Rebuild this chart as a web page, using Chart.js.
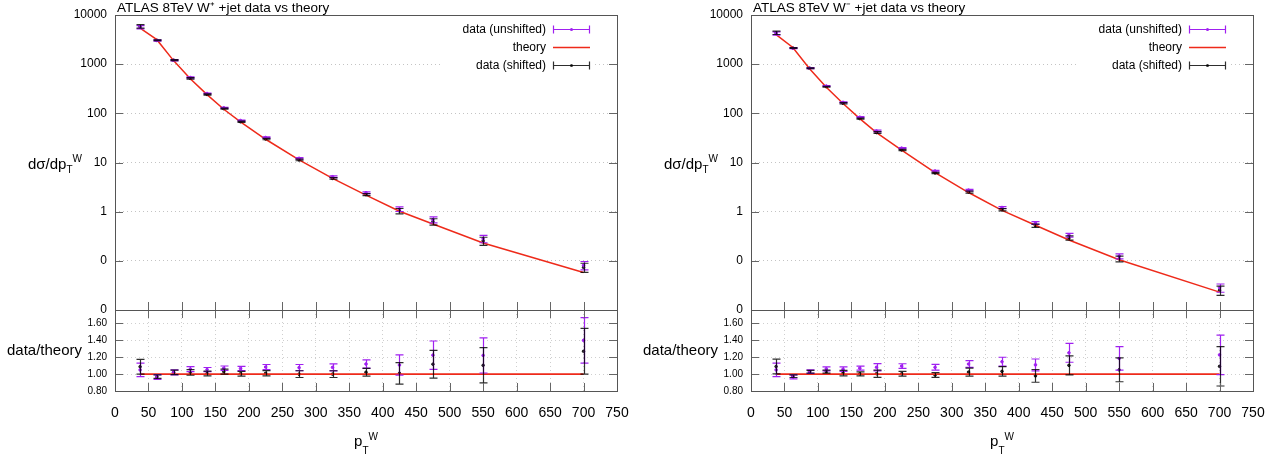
<!DOCTYPE html>
<html>
<head>
<meta charset="utf-8">
<script src="https://cdn.jsdelivr.net/npm/chart.js@4/dist/chart.umd.min.js"></script>
<style>
  body { margin: 0; background: #fff; width: 1276px; height: 456px; overflow: hidden; position: relative; }
  canvas { position: absolute; }
</style>
</head>
<body>
<script>
// bin centres in p_T^W
const ptBins = [37.5, 62.5, 87.5, 112.5, 137.5, 162.5, 187.5, 225, 275, 325, 375, 425, 475, 550, 700];

// W+ panel
const theoryWp     = [5400, 3150, 1180, 505, 240, 121, 67, 29.7, 11.3, 4.75, 2.17, 1.02, 0.56, 0.23, 0.058];
const dataWp       = [5670, 3040, 1204, 535, 253, 129.5, 71.4, 32.2, 12.17, 5.13, 2.43, 1.13, 0.686, 0.281, 0.0812];
const errWp        = [432, 88, 35, 15.2, 5.8, 3.15, 1.68, 0.89, 0.42, 0.195, 0.106, 0.122, 0.094, 0.048, 0.0157];
const shiftedWp    = [5875, 3056, 1204, 515, 242, 124.6, 67.3, 30.0, 11.3, 4.75, 2.22, 1.03, 0.626, 0.254, 0.0737];
const shiftedErrWp = [475, 63, 31, 16.7, 6.7, 3.6, 1.81, 0.95, 0.45, 0.19, 0.10, 0.13, 0.092, 0.048, 0.0157];

// W- panel
const theoryWm     = [4000, 2180, 805, 338, 158, 78, 40.5, 17.9, 6.2, 2.45, 1.06, 0.53, 0.265, 0.105, 0.0231];
const dataWm       = [4200, 2110, 829, 359, 167.2, 83.5, 43.8, 19.6, 6.70, 2.744, 1.216, 0.588, 0.332, 0.1245, 0.02837];
const errWm        = [320, 52, 17.7, 7.8, 4.3, 1.87, 1.74, 0.50, 0.21, 0.10, 0.056, 0.037, 0.0297, 0.0146, 0.00543];
const shiftedWm    = [4360, 2128, 827, 348, 159.9, 78.3, 40.7, 17.97, 6.13, 2.509, 1.095, 0.519, 0.2926, 0.1103, 0.02523];
const shiftedErrWm = [352, 35, 12.9, 6.1, 5.1, 1.87, 1.74, 0.50, 0.174, 0.115, 0.060, 0.040, 0.0297, 0.0148, 0.00538];

const logTicks = [0.01, 0.1, 1, 10, 100, 1000, 10000];
const ratioTicks = [0.8, 1.0, 1.2, 1.4, 1.6];
const panelTitles = ['ATLAS 8TeV W\u207A +jet data vs theory', 'ATLAS 8TeV W\u207B +jet data vs theory'];
const legendOrder = ['data (unshifted)', 'theory', 'data (shifted)'];

const FONT = '"Liberation Sans", Arial, sans-serif';
const PURPLE = '#a020f0';
const BLACK = 'rgba(0,0,0,0.82)';
const RED = '#ee2a1a';

// rich text with sub/superscripts: parts = [text, size, dy]
function drawRich(ctx, parts, x, y, align) {
  let w = 0;
  parts.forEach(p => { ctx.font = p[1] + 'px ' + FONT; w += ctx.measureText(p[0]).width; });
  let cx = align === 'right' ? x - w : align === 'center' ? x - w / 2 : x;
  ctx.textAlign = 'left';
  ctx.textBaseline = 'alphabetic';
  ctx.fillStyle = '#000';
  parts.forEach(p => {
    ctx.font = p[1] + 'px ' + FONT;
    ctx.fillText(p[0], cx, y + p[2]);
    cx += ctx.measureText(p[0]).width;
  });
}

// keep the plot frames exactly where the layout padding puts them
function fixY(s) { s.width = 115; s.paddingTop = 0; s.paddingBottom = 0; }
function fixX(s) { s.height = 65; s.paddingLeft = 0; s.paddingRight = 0; }

const frame = {
  id: 'frame',
  afterDatasetsDraw(chart, args, o) {
    const { ctx, chartArea: a } = chart;
    const x = chart.scales.x, y = chart.scales.y;
    ctx.save();

    // error bars
    chart.data.datasets.forEach(ds => {
      if (!ds.errors) return;
      ctx.strokeStyle = ds.borderColor;
      ctx.lineWidth = 1.2;
      ds.data.forEach((p, i) => {
        const px = Math.round(x.getPixelForValue(p.x)) + 0.5;
        const y1 = y.getPixelForValue(p.y + ds.errors[i]);
        const y2 = y.getPixelForValue(p.y - ds.errors[i]);
        ctx.beginPath();
        ctx.moveTo(px, y1); ctx.lineTo(px, y2);
        ctx.moveTo(px - 4, y1); ctx.lineTo(px + 4, y1);
        ctx.moveTo(px - 4, y2); ctx.lineTo(px + 4, y2);
        ctx.stroke();
      });
    });

    // inward tick marks
    ctx.strokeStyle = '#666';
    ctx.lineWidth = 1;
    ctx.beginPath();
    x.ticks.forEach(t => {
      if (t.value <= x.min || t.value >= x.max) return;
      const px = Math.round(x.getPixelForValue(t.value)) + 0.5;
      ctx.moveTo(px, a.bottom); ctx.lineTo(px, a.bottom - 8);
      if (o.topTicks) { ctx.moveTo(px, a.top); ctx.lineTo(px, a.top + 8); }
    });
    y.ticks.forEach(t => {
      if (t.value <= y.min || t.value >= y.max) return;
      const py = Math.round(y.getPixelForValue(t.value)) + 0.5;
      ctx.moveTo(a.left, py); ctx.lineTo(a.left + 8, py);
      ctx.moveTo(a.right, py); ctx.lineTo(a.right - 8, py);
    });
    ctx.stroke();

    // border
    ctx.strokeStyle = '#555';
    ctx.strokeRect(a.left + 0.5, a.top + 0.5, a.right - a.left, a.bottom - a.top);

    // legend
    if (o.legend) {
      ctx.fillStyle = '#fff';
      ctx.fillRect(440, a.top + 5, 152, 56);
      legendOrder.forEach((label, k) => {
        const ds = chart.data.datasets.find(d => d.label === label);
        const ly = 29.5 + 18 * k;
        ctx.fillStyle = '#000';
        ctx.font = '12px ' + FONT;
        ctx.textAlign = 'right';
        ctx.textBaseline = 'middle';
        ctx.fillText(label, 546, ly);
        ctx.strokeStyle = ds.borderColor;
        ctx.lineWidth = ds.errors ? 1.2 : 1.5;
        ctx.beginPath();
        ctx.moveTo(553, ly); ctx.lineTo(590, ly);
        if (ds.errors) {
          ctx.moveTo(553.5, ly - 4); ctx.lineTo(553.5, ly + 4);
          ctx.moveTo(589.5, ly - 4); ctx.lineTo(589.5, ly + 4);
        }
        ctx.stroke();
        if (ds.errors) {
          ctx.fillStyle = ds.borderColor;
          ctx.beginPath(); ctx.arc(571.5, ly, 1.5, 0, Math.PI * 2); ctx.fill();
        }
      });
    }

    // title
    if (o.title) {
      ctx.fillStyle = '#000';
      ctx.font = '13.5px ' + FONT;
      ctx.textAlign = 'left';
      ctx.textBaseline = 'middle';
      ctx.fillText(o.title, a.left + 2, 8);
    }

    if (o.yTitle) drawRich(ctx, o.yTitle, a.left - 33, o.yTitleBase, 'right');
    if (o.xTitle) drawRich(ctx, o.xTitle, (a.left + a.right) / 2, o.xTitleBase, 'center');
    ctx.restore();
  }
};

function points(xs, ys) {
  return xs.map((v, i) => ({ x: v, y: ys[i] }));
}

function makeCanvas(left, top, w, h) {
  const c = document.createElement('canvas');
  c.width = w; c.height = h;
  c.style.left = left + 'px'; c.style.top = top + 'px';
  c.style.width = w + 'px'; c.style.height = h + 'px';
  document.body.appendChild(c);
  return c;
}

function makePanel(idx, theory, data, err, shifted, shiftedErr) {
  const left = idx * 636;

  // upper: cross sections on log scale
  new Chart(makeCanvas(left, 0, 636, 322), {
    type: 'line',
    data: {
      datasets: [
        { label: 'theory', data: points(ptBins, theory), borderColor: RED, borderWidth: 1.5, pointRadius: 0, tension: 0 },
        { label: 'data (unshifted)', data: points(ptBins, data), errors: err, showLine: false,
          pointRadius: 1.3, borderColor: PURPLE, backgroundColor: PURPLE },
        { label: 'data (shifted)', data: points(ptBins, shifted), errors: shiftedErr, showLine: false,
          pointRadius: 1.3, borderColor: BLACK, backgroundColor: BLACK }
      ]
    },
    options: {
      responsive: false,
      animation: false,
      layout: { padding: { left: 0, right: 19, top: 15, bottom: 12 } },
      plugins: {
        legend: { display: false },
        tooltip: { enabled: false },
        frame: {
          legend: true, topTicks: false, title: panelTitles[idx],
          yTitle: [['d\u03C3/dp', 15, 0], ['T', 10, 4], ['W', 10, -7]], yTitleBase: 169
        }
      },
      scales: {
        x: { type: 'linear', min: 0, max: 750, display: false, ticks: { stepSize: 50 } },
        y: {
          type: 'logarithmic', min: 0.01, max: 10000,
          afterFit: fixY,
          afterBuildTicks: s => { s.ticks = logTicks.map(v => ({ value: v })); },
          ticks: {
            callback: v => v >= 1 ? String(v) : '0',
            font: { size: 12, family: FONT }, color: '#000', padding: 8
          },
          grid: { color: '#c4c4c4', drawTicks: false },
          border: { display: false, dash: [1, 3] }
        }
      }
    },
    plugins: [frame]
  });

  // lower: data / theory
  const ratio = (a, b) => a.map((v, i) => v / b[i]);
  new Chart(makeCanvas(left, 300, 636, 156), {
    type: 'line',
    data: {
      datasets: [
        { label: 'theory', data: points(ptBins, ratio(theory, theory)), borderColor: RED, borderWidth: 1.8, pointRadius: 0 },
        { label: 'data (unshifted)', data: points(ptBins, ratio(data, theory)), errors: ratio(err, theory),
          showLine: false, pointRadius: 1.3, borderColor: PURPLE, backgroundColor: PURPLE },
        { label: 'data (shifted)', data: points(ptBins, ratio(shifted, theory)), errors: ratio(shiftedErr, theory),
          showLine: false, pointRadius: 1.3, borderColor: BLACK, backgroundColor: BLACK }
      ]
    },
    options: {
      responsive: false,
      animation: false,
      layout: { padding: { left: 0, right: 19, top: 10, bottom: 0 } },
      plugins: {
        legend: { display: false },
        tooltip: { enabled: false },
        frame: {
          topTicks: true,
          yTitle: [['data/theory', 15, 0]], yTitleBase: 55,
          xTitle: [['p', 15, 0], ['T', 10, 8], ['W', 10, -6]], xTitleBase: 146
        }
      },
      scales: {
        x: {
          type: 'linear', min: 0, max: 750,
          afterFit: fixX,
          ticks: { stepSize: 50, autoSkip: false, maxRotation: 0, font: { size: 14, family: FONT }, color: '#000', padding: 14 },
          grid: { color: '#cfcfcf', drawTicks: false },
          border: { display: false, dash: [1, 3] }
        },
        y: {
          min: 0.8, max: 1.76,
          afterFit: fixY,
          afterBuildTicks: s => { s.ticks = ratioTicks.map(v => ({ value: v })); },
          ticks: { callback: v => v.toFixed(2), font: { size: 10, family: FONT }, color: '#000', padding: 8 },
          grid: { color: '#cfcfcf', drawTicks: false },
          border: { display: false, dash: [1, 3] }
        }
      }
    },
    plugins: [frame]
  });
}

makePanel(0, theoryWp, dataWp, errWp, shiftedWp, shiftedErrWp);
makePanel(1, theoryWm, dataWm, errWm, shiftedWm, shiftedErrWm);
</script>
</body>
</html>
